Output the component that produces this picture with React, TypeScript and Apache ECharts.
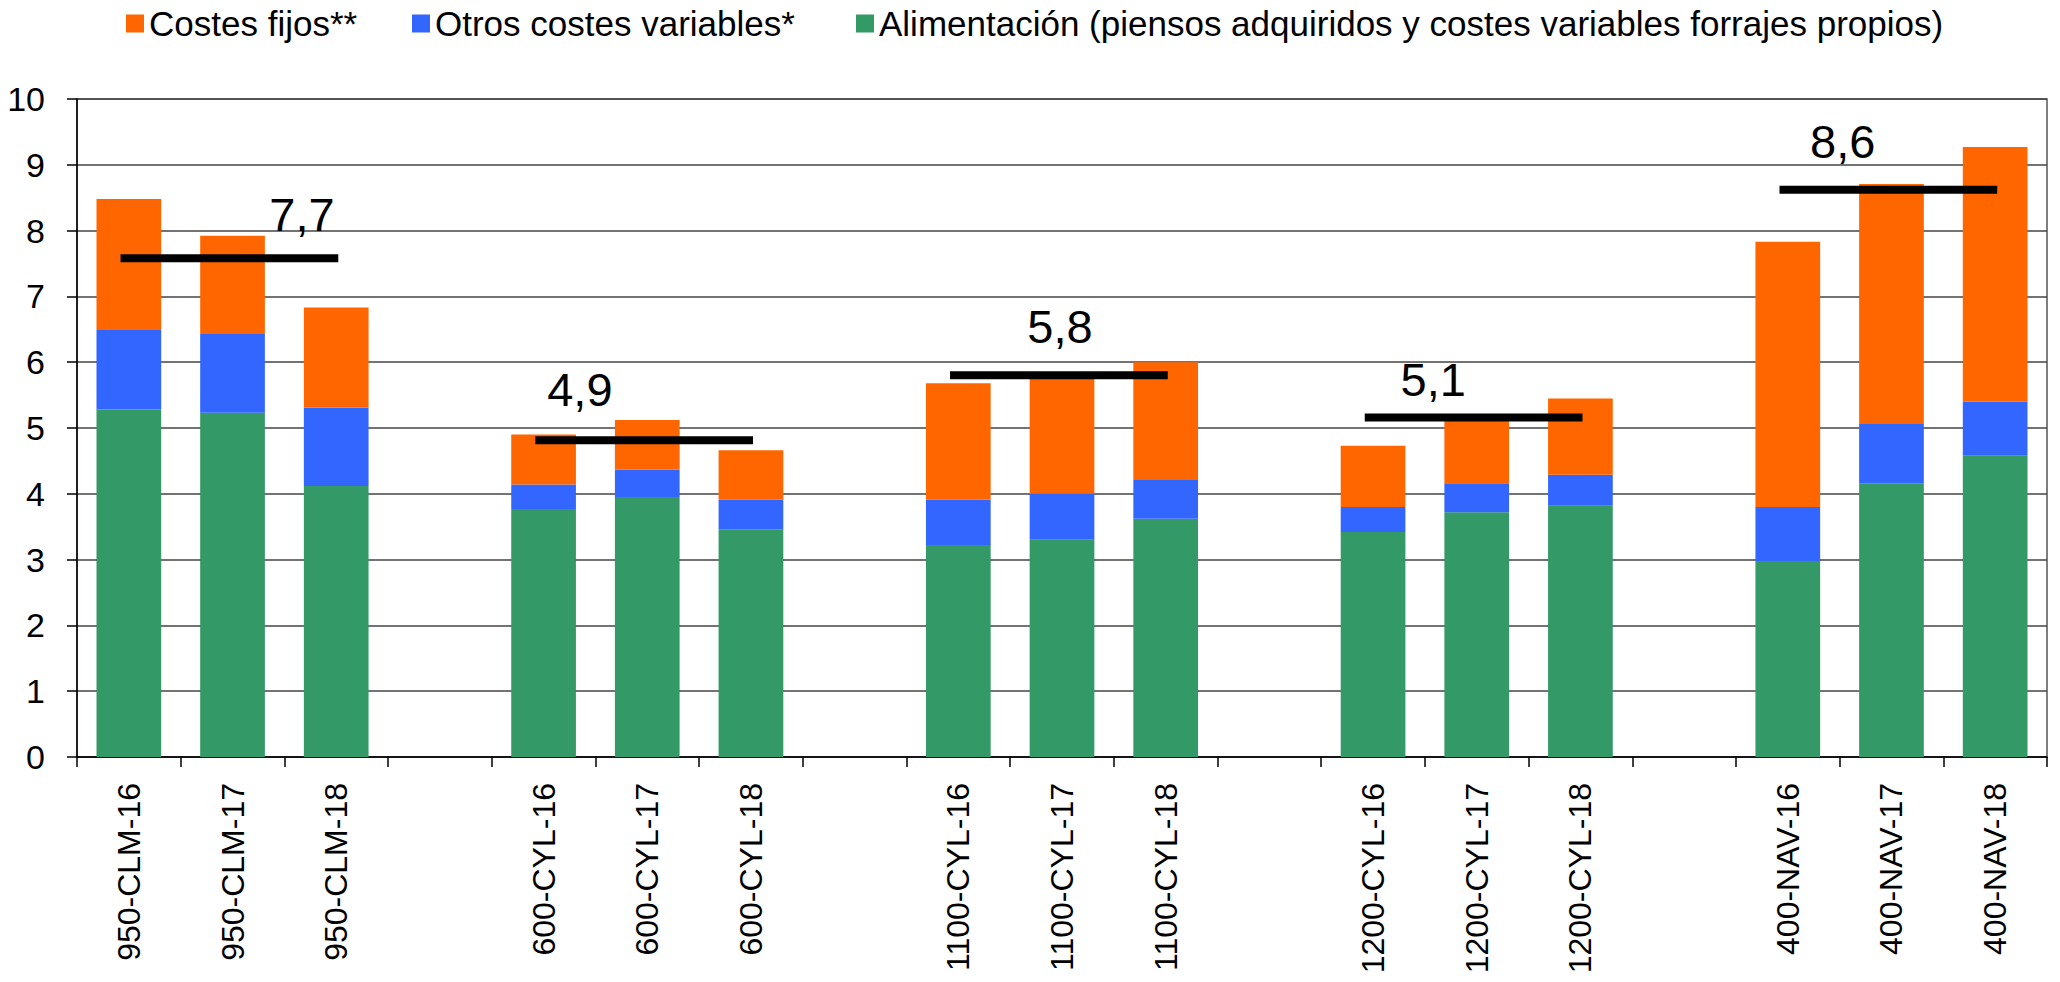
import React, { useEffect, useRef } from "react";
import * as echarts from "echarts";

const FONT = "'Liberation Sans', Arial, sans-serif";

const categories = [
  "950-CLM-16", "950-CLM-17", "950-CLM-18", "",
  "600-CYL-16", "600-CYL-17", "600-CYL-18", "",
  "1100-CYL-16", "1100-CYL-17", "1100-CYL-18", "",
  "1200-CYL-16", "1200-CYL-17", "1200-CYL-18", "",
  "400-NAV-16", "400-NAV-17", "400-NAV-18",
];

const alimentacion = [
  5.28, 5.23, 4.12, null,
  3.77, 3.95, 3.46, null,
  3.22, 3.30, 3.62, null,
  3.42, 3.72, 3.82, null,
  2.98, 4.16, 4.58,
];

const otrosVariables = [
  1.21, 1.20, 1.19, null,
  0.37, 0.42, 0.45, null,
  0.69, 0.70, 0.59, null,
  0.38, 0.44, 0.47, null,
  0.82, 0.90, 0.82,
];

const costesFijos = [
  1.99, 1.49, 1.52, null,
  0.76, 0.75, 0.75, null,
  1.77, 1.78, 1.79, null,
  0.93, 0.99, 1.16, null,
  4.03, 3.65, 3.87,
];

// average of each group (label) and the level at which its bar is drawn
const groupStart = [0, 4, 8, 12, 16];
const avgLabels = [7.7, 4.9, 5.8, 5.1, 8.6];
const avgLineLevel = [7.58, 4.815, 5.8, 5.16, 8.62];

// annotation layout (category units relative to group start / value above line)
const lineFrom = 0.42;
const lineTo = 2.52;
const labelDx = [2.17, 0.85, 1.48, 1.08, 1.03];
const labelDy = [0.67, 0.77, 0.75, 0.57, 0.74];

const SERIES_NAMES = [
  "Costes fijos**",
  "Otros costes variables*",
  "Alimentación (piensos adquiridos y costes variables forrajes propios)",
];
const COLORS = ["#FF6600", "#3366FF", "#339966"];

export default function App() {
  const ref = useRef<HTMLDivElement>(null);

  useEffect(() => {
    if (!ref.current) return;
    const chart = echarts.init(ref.current, null, { renderer: "svg" });

    const barCommon = {
      type: "bar",
      stack: "total",
      barCategoryGap: "37.6%",
      xAxisIndex: 0,
      yAxisIndex: 0,
    };

    const avgLineSeries = avgLabels.map((_, i) => ({
      type: "line",
      xAxisIndex: 1,
      yAxisIndex: 0,
      symbol: "none",
      silent: true,
      z: 5,
      lineStyle: { color: "#000", width: 8, cap: "butt" },
      data: [
        [groupStart[i] + lineFrom, avgLineLevel[i]],
        [groupStart[i] + lineTo, avgLineLevel[i]],
      ],
    }));

    const labelSeries = {
      type: "scatter",
      xAxisIndex: 1,
      yAxisIndex: 0,
      symbolSize: 0,
      silent: true,
      z: 6,
      itemStyle: { opacity: 1, color: "#000" },
      data: avgLabels.map((v, i) => ({
        value: [groupStart[i] + labelDx[i], avgLineLevel[i] + labelDy[i]],
        label: {
          show: true,
          position: "inside",
          formatter: v.toFixed(1).replace(".", ","),
          fontSize: 47,
          fontFamily: FONT,
          color: "#000",
          opacity: 1,
          textBorderWidth: 0,
        },
      })),
    };

    const legendCommon = {
      top: 6,
      padding: 0,
      itemWidth: 18,
      itemHeight: 18,
      icon: "rect",
      textStyle: { fontSize: 35, fontFamily: FONT, color: "#000" },
    };

    chart.setOption({
      animation: false,
      backgroundColor: "#fff",
      legend: [
        { ...legendCommon, left: 126, data: [SERIES_NAMES[0]] },
        { ...legendCommon, left: 412, data: [SERIES_NAMES[1]] },
        { ...legendCommon, left: 856, data: [SERIES_NAMES[2]] },
      ],
      grid: {
        left: 77,
        right: 13,
        top: 99,
        bottom: 225,
        show: true,
        borderColor: "#555",
        borderWidth: 1.5,
        containLabel: false,
      },
      xAxis: [
        {
          type: "category",
          data: categories,
          boundaryGap: true,
          axisLine: { show: true, lineStyle: { color: "#000", width: 1.5 } },
          axisTick: {
            show: true,
            interval: 0,
            length: 10,
            alignWithLabel: false,
            lineStyle: { color: "#000", width: 1.5 },
          },
          axisLabel: {
            interval: 0,
            rotate: 90,
            margin: 26,
            fontSize: 32,
            fontFamily: FONT,
            color: "#000",
          },
        },
        {
          type: "value",
          min: 0,
          max: 19,
          show: false,
          position: "bottom",
        },
      ],
      yAxis: {
        type: "value",
        min: 0,
        max: 10,
        interval: 1,
        axisLine: { show: true, lineStyle: { color: "#000", width: 1.5 } },
        axisTick: { show: true, length: 10, lineStyle: { color: "#000", width: 1.5 } },
        axisLabel: {
          margin: 32,
          fontSize: 34,
          fontFamily: FONT,
          color: "#000",
        },
        splitLine: { show: true, lineStyle: { color: "#444", width: 1.5 } },
      },
      series: [
        { ...barCommon, name: SERIES_NAMES[2], data: alimentacion, itemStyle: { color: COLORS[2] } },
        { ...barCommon, name: SERIES_NAMES[1], data: otrosVariables, itemStyle: { color: COLORS[1] } },
        { ...barCommon, name: SERIES_NAMES[0], data: costesFijos, itemStyle: { color: COLORS[0] } },
        ...avgLineSeries,
        labelSeries,
      ],
    });

    return () => chart.dispose();
  }, []);

  return (
    <div
      ref={ref}
      style={{ position: "fixed", left: 0, top: 0, width: 2060, height: 982 }}
    />
  );
}
